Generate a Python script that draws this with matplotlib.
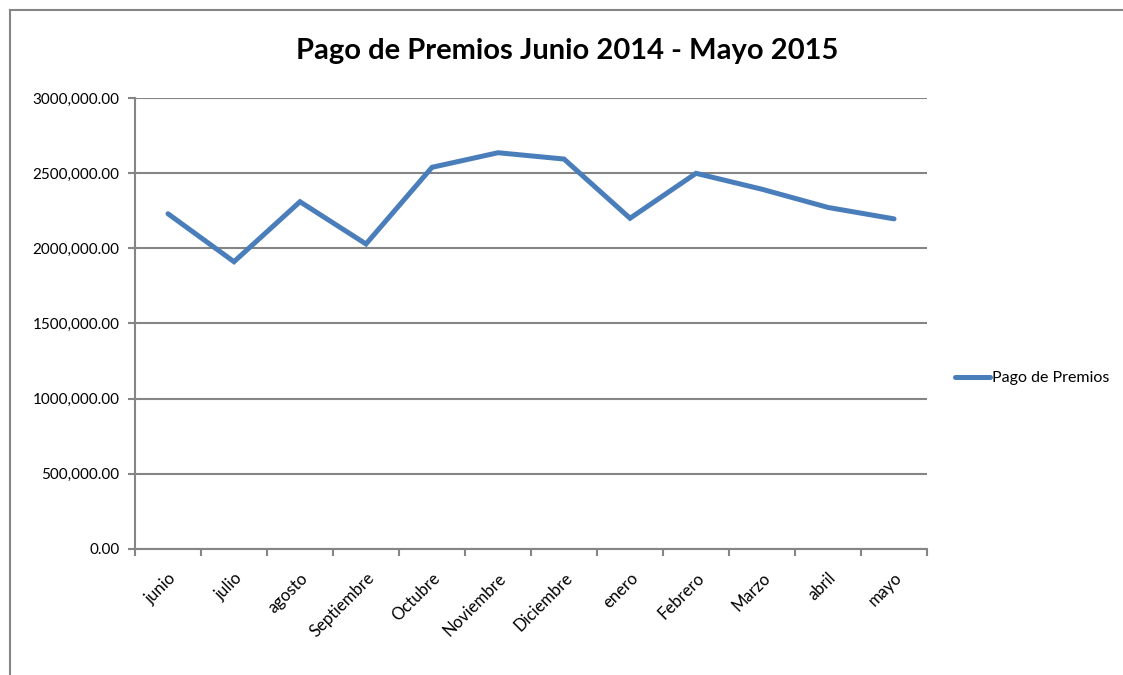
import matplotlib.pyplot as plt
from matplotlib.lines import Line2D

meses = ['junio', 'julio', 'agosto', 'Septiembre', 'Octubre', 'Noviembre',
         'Diciembre', 'enero', 'Febrero', 'Marzo', 'abril', 'mayo']
pagos = [2230000, 1911000, 2310000, 2029000, 2539000, 2636000,
         2594000, 2200000, 2499000, 2393000, 2272000, 2196000]
y_ticks = [0, 500000, 1000000, 1500000, 2000000, 2500000, 3000000]
y_labels = ['0.00', '500,000.00', '1000,000.00', '1500,000.00',
            '2000,000.00', '2500,000.00', '3000,000.00']

plt.rcParams['font.family'] = ['Lato', 'DejaVu Sans']
gris = '#858585'

fig = plt.figure(figsize=(11.23, 6.75), dpi=100)
ax = fig.add_axes([0.1202, 0.1867, 0.7053, 0.6681])

x = list(range(len(meses)))
ax.plot(x, pagos, color='#4a7ebb', linewidth=3.6, label='Pago de Premios',
        solid_joinstyle='miter', solid_capstyle='round')

ax.set_xlim(-0.5, len(meses) - 0.5)
ax.set_ylim(0, 3000000)
ax.set_yticks(y_ticks)
ax.set_yticklabels(y_labels, fontsize=11)
ax.yaxis.grid(True, color=gris, linewidth=1.5)
ax.set_axisbelow(True)

# ticks on category boundaries, labels at centers
ax.set_xticks([i - 0.5 for i in range(len(meses) + 1)])
ax.set_xticklabels([])
ax.set_xticks(x, minor=True)
ax.set_xticklabels(meses, minor=True, rotation=45, ha='right', va='top',
                   rotation_mode='anchor', fontsize=12)
ax.tick_params(axis='x', which='minor', length=0, pad=15)
ax.tick_params(axis='x', which='major', length=5, width=1.5, color=gris)
ax.tick_params(axis='y', length=5, width=1.5, color=gris, pad=6)

for s in ['top', 'right']:
    ax.spines[s].set_visible(False)
for s in ['left', 'bottom']:
    ax.spines[s].set_color(gris)
    ax.spines[s].set_linewidth(1.5)

fig.text(0.505, 0.925, 'Pago de Premios Junio 2014 - Mayo 2015',
         ha='center', va='center', fontsize=21, fontweight='bold')

ax.legend(loc='center left', bbox_to_anchor=(0.845, 0.44),
          bbox_transform=fig.transFigure, frameon=False, fontsize=11.5,
          handlelength=2.2, handletextpad=0.1, borderaxespad=0)

# outer chart frame
fig.add_artist(Line2D([0.009, 0.009], [0, 0.985], color=gris, linewidth=1.5,
                      transform=fig.transFigure))
fig.add_artist(Line2D([0.009, 1], [0.985, 0.985], color=gris, linewidth=1.5,
                      transform=fig.transFigure))

fig.savefig('out.png', dpi=100)
